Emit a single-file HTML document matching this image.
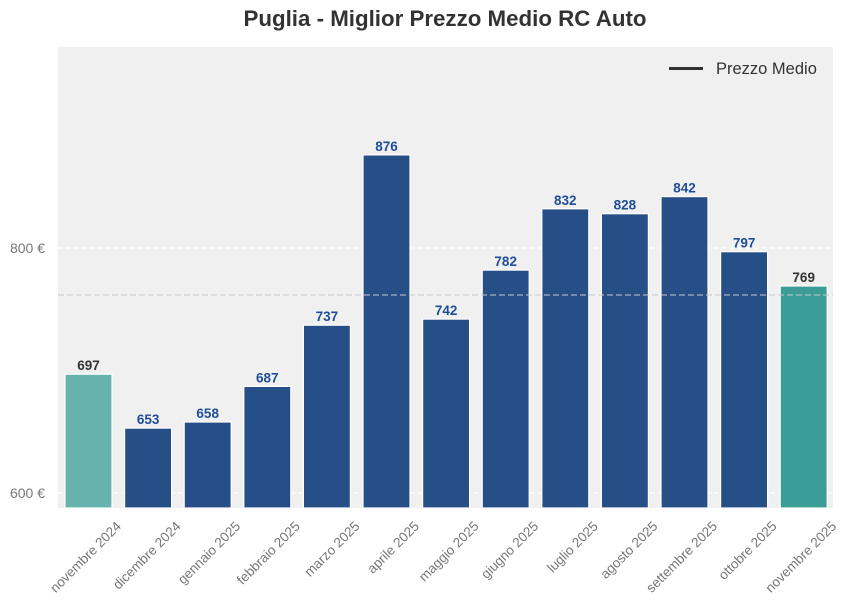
<!DOCTYPE html>
<html><head><meta charset="utf-8"><style>body{margin:0;background:#fff}svg{display:block}</style></head>
<body>
<svg width="852" height="610" xmlns="http://www.w3.org/2000/svg" font-family="Liberation Sans, sans-serif">
<rect width="852" height="610" fill="#fff"/>
<text x="445" y="26" text-anchor="middle" font-size="22.3" font-weight="bold" fill="#333">Puglia - Miglior Prezzo Medio RC Auto</text>
<rect x="58" y="47" width="775" height="461" fill="#f0f0f0"/>
<line x1="58" y1="248" x2="833" y2="248" stroke="#fff" stroke-dasharray="5,3"/>
<line x1="58" y1="493" x2="833" y2="493" stroke="#fff" stroke-dasharray="5,3"/>
<text x="45" y="253" text-anchor="end" font-size="14" fill="#777">800 €</text>
<text x="45" y="498" text-anchor="end" font-size="14" fill="#777">600 €</text>
<g stroke="#fff" stroke-width="1.2">
<rect x="65" y="374.2" width="47" height="133.8" fill="#66b2ac"/>
<rect x="124.6" y="428.1" width="47" height="79.9" fill="#274f87"/>
<rect x="184.2" y="422" width="47" height="86" fill="#274f87"/>
<rect x="243.8" y="386.4" width="47" height="121.6" fill="#274f87"/>
<rect x="303.4" y="325.2" width="47" height="182.8" fill="#274f87"/>
<rect x="363" y="154.9" width="47" height="353.1" fill="#274f87"/>
<rect x="422.6" y="319.1" width="47" height="188.9" fill="#274f87"/>
<rect x="482.2" y="270.1" width="47" height="237.9" fill="#274f87"/>
<rect x="541.8" y="208.8" width="47" height="299.2" fill="#274f87"/>
<rect x="601.4" y="213.7" width="47" height="294.3" fill="#274f87"/>
<rect x="661" y="196.6" width="47" height="311.4" fill="#274f87"/>
<rect x="720.6" y="251.7" width="47" height="256.3" fill="#274f87"/>
<rect x="780.2" y="286" width="47" height="222" fill="#3c9c96"/>
</g>
<g text-anchor="middle" font-size="13.5" font-weight="bold" fill="#1f4e99">
<text x="88.5" y="370.2" fill="#333">697</text>
<text x="148.1" y="424.1">653</text>
<text x="207.7" y="418">658</text>
<text x="267.3" y="382.4">687</text>
<text x="326.9" y="321.2">737</text>
<text x="386.5" y="150.9">876</text>
<text x="446.1" y="315.1">742</text>
<text x="505.7" y="266.1">782</text>
<text x="565.3" y="204.8">832</text>
<text x="624.9" y="209.7">828</text>
<text x="684.5" y="192.6">842</text>
<text x="744.1" y="247.7">797</text>
<text x="803.7" y="282" fill="#333">769</text>
</g>
<g text-anchor="end" font-size="13.5" fill="#777">
<text transform="translate(122,527) rotate(-45)">novembre 2024</text>
<text transform="translate(181.6,527) rotate(-45)">dicembre 2024</text>
<text transform="translate(241.2,527) rotate(-45)">gennaio 2025</text>
<text transform="translate(300.8,527) rotate(-45)">febbraio 2025</text>
<text transform="translate(360.4,527) rotate(-45)">marzo 2025</text>
<text transform="translate(420,527) rotate(-45)">aprile 2025</text>
<text transform="translate(479.6,527) rotate(-45)">maggio 2025</text>
<text transform="translate(539.2,527) rotate(-45)">giugno 2025</text>
<text transform="translate(598.8,527) rotate(-45)">luglio 2025</text>
<text transform="translate(658.4,527) rotate(-45)">agosto 2025</text>
<text transform="translate(718,527) rotate(-45)">settembre 2025</text>
<text transform="translate(777.6,527) rotate(-45)">ottobre 2025</text>
<text transform="translate(837.2,527) rotate(-45)">novembre 2025</text>
</g>
<line x1="58" y1="295" x2="833" y2="295" stroke="#c8c8cc" stroke-dasharray="6,3"/>
<line x1="669" y1="68.5" x2="703" y2="68.5" stroke="#333" stroke-width="3"/>
<text x="716" y="74" font-size="16.5" fill="#333">Prezzo Medio</text>
</svg>
</body></html>
